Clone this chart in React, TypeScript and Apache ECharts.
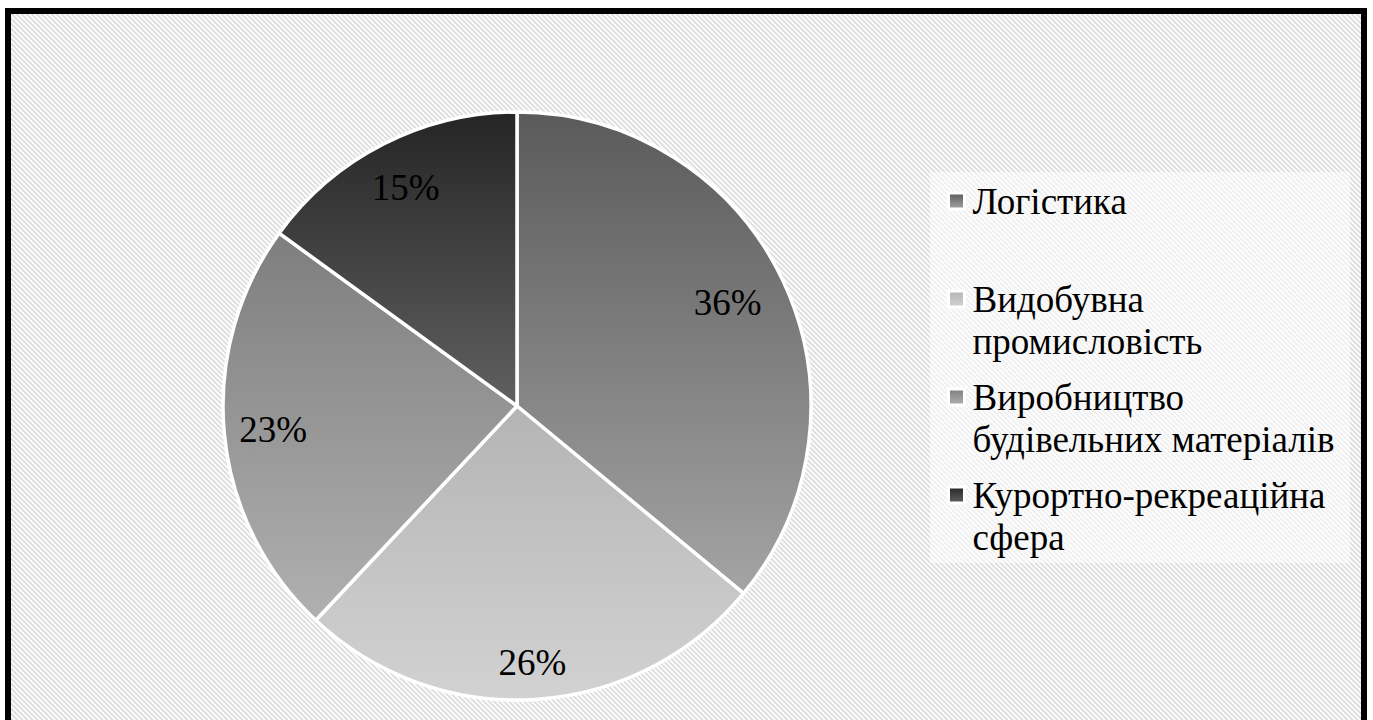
import React, { useEffect, useRef } from "react";
import * as echarts from "echarts";

const categories = [
  "Логістика",
  "Видобувна промисловість",
  "Виробництво будівельних матеріалів",
  "Курортно-рекреаційна сфера",
];
const legendLines = [
  ["Логістика"],
  ["Видобувна", "промисловість"],
  ["Виробництво", "будівельних матеріалів"],
  ["Курортно-рекреаційна", "сфера"],
];
const values = [36, 26, 23, 15];
const gradientTop = ["#5a5a5a", "#b4b4b4", "#7e7e7e", "#252525"];
const gradientBottom = ["#a4a4a4", "#d2d2d2", "#b0b0b0", "#606060"];
// small label nudges (style only) to mimic Excel's label placement
const labelNudge = [
  [-11, 1],
  [0, 12],
  [0, 0],
  [0, 0],
];

const FONT = '"Liberation Serif", "Times New Roman", serif';

function grad(i: number) {
  return new echarts.graphic.LinearGradient(0, 0, 0, 1, [
    { offset: 0, color: gradientTop[i] },
    { offset: 1, color: gradientBottom[i] },
  ]);
}

function hatchTile() {
  let rects = "";
  for (let y = 0; y < 5; y++) {
    for (const d of [0, 1]) {
      const x = (y + d) % 5;
      rects += `<rect x='${x}' y='${y}' width='1' height='1' fill='%23dcdcdc'/>`;
    }
  }
  const svg = `<svg xmlns='http://www.w3.org/2000/svg' width='5' height='5' shape-rendering='crispEdges'><rect width='5' height='5' fill='%23f8f8f8'/>${rects}</svg>`;
  return `url("data:image/svg+xml;utf8,${svg}")`;
}

export default function App() {
  const ref = useRef<HTMLDivElement>(null);
  useEffect(() => {
    if (!ref.current) return;
    const chart = echarts.init(ref.current, null, { renderer: "svg" });
    const data = categories.map((name, i) => ({
      name,
      value: values[i],
      itemStyle: { color: grad(i) },
    }));
    chart.setOption({
      animation: false,
      backgroundColor: "transparent",
      textStyle: { fontFamily: FONT },
      graphic: [
        {
          type: "rect",
          z: 1,
          shape: { x: 930, y: 172, width: 420, height: 391 },
          style: { fill: "rgba(255,255,255,0.55)" },
          silent: true,
        },
        {
          type: "rect",
          z: 100,
          shape: { x: 8, y: 11, width: 1356, height: 740 },
          style: { fill: "none", stroke: "#000", lineWidth: 6 },
          silent: true,
        },
      ],
      legend: {
        orient: "vertical",
        left: 947,
        top: 138,
        padding: 0,
        itemGap: -28,
        icon: "rect",
        itemWidth: 16,
        itemHeight: 16,
        itemStyle: { borderColor: "#ffffff", borderWidth: 3 },
        data: categories,
        selectedMode: false,
        formatter: (name: string) => {
          const lines = legendLines[categories.indexOf(name)];
          return "\n" + lines.join("\n") + (lines.length === 1 ? "\n" : "");
        },
        textStyle: {
          fontFamily: FONT,
          fontSize: 37,
          lineHeight: 42,
          color: "#000",
          padding: [0, 0, 0, 3],
        },
      },
      series: [
        {
          type: "pie",
          center: [517, 406],
          radius: 294,
          startAngle: 90,
          clockwise: true,
          silent: true,
          label: { show: false },
          labelLine: { show: false },
          itemStyle: { borderColor: "#ffffff", borderWidth: 3.5 },
          data,
        },
        {
          type: "pie",
          center: [517, 406],
          radius: [190, 294],
          startAngle: 90,
          clockwise: true,
          silent: true,
          legendHoverLink: false,
          itemStyle: { color: "transparent", borderWidth: 0 },
          label: {
            show: true,
            position: "inside",
            formatter: (p: any) => p.value + "%",
            fontFamily: FONT,
            fontSize: 37,
            color: "#000",
          },
          labelLayout: (p: any) => ({
            dx: labelNudge[p.dataIndex][0],
            dy: labelNudge[p.dataIndex][1],
          }),
          labelLine: { show: false },
          data: categories.map((name, i) => ({ name, value: values[i] })),
        },
      ],
    });
    return () => chart.dispose();
  }, []);

  return (
    <div
      style={{
        position: "absolute",
        left: 0,
        top: 0,
        width: 1373,
        height: 720,
        background: "#ffffff",
        overflow: "hidden",
      }}
    >
      <div
        style={{
          position: "absolute",
          left: 11,
          top: 14,
          width: 1351,
          height: 720,
          backgroundImage: hatchTile(),
          backgroundRepeat: "repeat",
        }}
      />
      <div
        ref={ref}
        style={{ position: "absolute", left: 0, top: 0, width: 1373, height: 720 }}
      />
    </div>
  );
}
